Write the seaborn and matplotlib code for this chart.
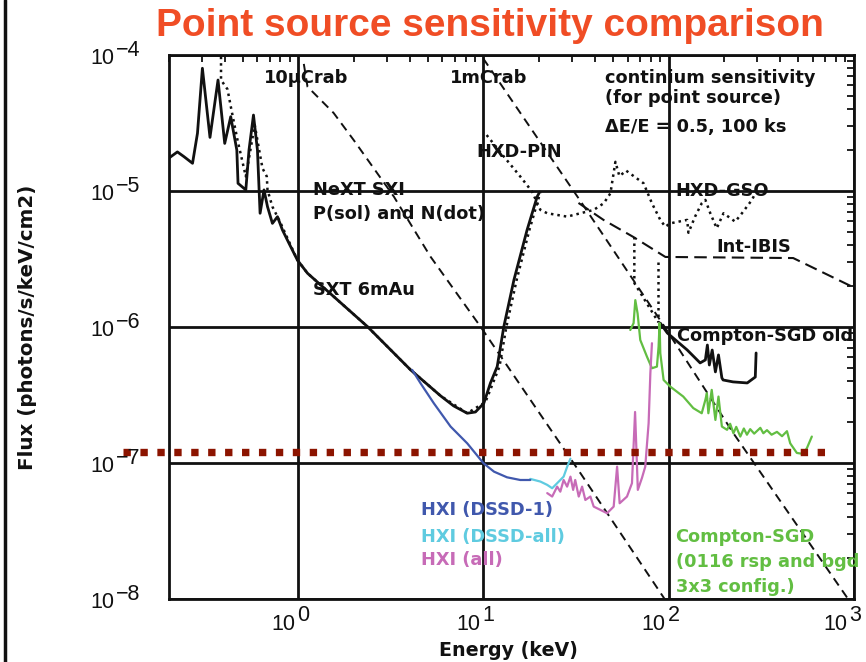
import matplotlib
matplotlib.use("Agg")
import matplotlib.pyplot as plt
import numpy as np
import pandas as pd
import seaborn as sns
from matplotlib.lines import Line2D
from matplotlib.ticker import LogLocator, NullFormatter

# ---------------------------------------------------------------- data
# Crab-like reference spectrum at the 1 mCrab level (photons/s/keV/cm2)
crab_E = [1.07, 1.12, 1.55, 1.99, 2.67, 3.28, 5.17, 9.63, 19.5, 33.4, 93.6, 224, 912, 960]
crab_1m = [8.6e-3, 5.85e-3, 3.75e-3, 2.37e-3, 1.35e-3, 9.1e-4, 3.30e-4, 1.01e-4,
           2.47e-5, 8.45e-6, 1.04e-6, 1.66e-7, 1.05e-8, 9.4e-9]

# NeXT SXI, P (solid)
sxt_p_E = [0.20, 0.222, 0.241, 0.268, 0.285, 0.303, 0.333, 0.368, 0.400, 0.431, 0.465,
           0.472, 0.520, 0.541, 0.572, 0.601, 0.621, 0.652, 0.681, 0.724, 0.771, 0.820,
           0.890, 0.988, 1.12, 2.36, 4.04, 5.86, 6.89, 8.17, 9.05, 10.04, 10.9, 11.86,
           12.88, 14.6, 17.2, 19.5, 20.1]
sxt_p_F = [1.75e-5, 1.94e-5, 1.79e-5, 1.60e-5, 2.66e-5, 7.99e-5, 2.48e-5, 6.55e-5, 2.24e-5,
           3.52e-5, 2.00e-5, 1.14e-5, 1.02e-5, 2.00e-5, 3.62e-5, 2.00e-5, 6.87e-6, 1.02e-5,
           7.68e-6, 5.79e-6, 6.48e-6, 5.18e-6, 4.13e-6, 3.11e-6, 2.49e-6, 1.01e-6, 4.85e-7,
           3.13e-7, 2.64e-7, 2.33e-7, 2.38e-7, 2.76e-7, 3.88e-7, 5.13e-7, 1.01e-6, 2.22e-6,
           5.18e-6, 9.10e-6, 9.84e-6]

# NeXT SXI, N (dotted)
sxt_n_E = [0.382, 0.382, 0.414, 0.435, 0.469, 0.520, 0.581, 0.614, 0.640, 0.675, 0.681,
           0.724, 0.803, 0.890, 0.988, 1.12, 2.36, 4.04, 5.86, 8.17, 10.25, 12.2, 13.3,
           15.1, 17.7, 20.3]
sxt_n_F = [9.72e-5, 6.55e-5, 5.60e-5, 3.94e-5, 2.37e-5, 1.28e-5, 3.06e-5, 2.00e-5, 1.47e-5,
           1.28e-5, 1.02e-5, 7.68e-6, 5.79e-6, 4.25e-6, 3.11e-6, 2.49e-6, 1.01e-6, 4.85e-7,
           3.13e-7, 2.33e-7, 2.82e-7, 5.13e-7, 1.01e-6, 2.22e-6, 5.18e-6, 9.84e-6]

# Suzaku HXD-PIN and HXD-GSO (dotted)
pin_E = [10.4, 12.9, 15.8, 18.3, 20.3, 22.1, 28.3, 33.4, 39.4, 44.6, 48.5, 51.6, 54.2, 59.1]
pin_F = [2.58e-5, 1.79e-5, 1.28e-5, 9.91e-6, 7.27e-6, 6.87e-6, 6.49e-6, 6.87e-6, 7.27e-6,
         8.13e-6, 9.63e-6, 1.64e-5, 1.29e-5, 1.41e-5]
gso_E = [59.1, 73.3, 81.3, 90.2, 96.0, 102, 126, 128, 139, 151, 158, 168, 182, 198, 229,
         249, 282, 294]
gso_F = [1.41e-5, 1.14e-5, 8.13e-6, 6.14e-6, 5.47e-6, 5.79e-6, 6.14e-6, 4.94e-6, 6.49e-6,
         8.13e-6, 8.61e-6, 6.87e-6, 5.33e-6, 6.87e-6, 5.96e-6, 6.87e-6, 8.61e-6, 9.63e-6]

# INTEGRAL IBIS (dashed)
ibis_E = [32.6, 44.5, 64.5, 96.1, 471, 991]
ibis_F = [8.18e-6, 6.14e-6, 4.60e-6, 3.28e-6, 3.22e-6, 1.97e-6]

# Compton-SGD, earlier estimate (black)
sgd_old_E = [90.2, 98.4, 126, 148, 158, 162, 166, 172, 179, 186, 194, 197, 223, 266, 294, 297]
sgd_old_F = [1.07e-6, 9.06e-7, 6.80e-7, 5.46e-7, 5.74e-7, 7.39e-7, 5.27e-7, 6.79e-7, 4.69e-7,
             6.25e-7, 4.24e-7, 4.09e-7, 3.96e-7, 3.89e-7, 4.30e-7, 6.46e-7]
sgd_old_edge1_E = [65.3, 65.3, 88.0]
sgd_old_edge1_F = [4.60e-6, 2.11e-6, 1.09e-6]
sgd_old_edge2_E = [88.0, 88.0]
sgd_old_edge2_F = [3.01e-6, 1.09e-6]

# Compton-SGD (0116 response and background, 3x3 configuration)
sgd_E = [62.1, 64.7, 66.1, 68.0, 70.3, 76.4, 81.3, 86.5, 88.3, 89.4, 90.2, 94.0, 102, 120,
         136, 151, 158, 161, 164, 171, 179, 186, 194, 207, 215, 224, 232, 244, 255, 265,
         276, 290, 313, 325, 340, 360, 385, 410, 436, 454, 493, 535, 560, 594]
sgd_F = [9.53e-7, 1.07e-6, 1.58e-6, 1.26e-6, 8.05e-7, 6.07e-7, 4.99e-7, 5.13e-7, 7.19e-7,
         1.07e-6, 6.43e-7, 4.09e-7, 3.66e-7, 3.09e-7, 2.54e-7, 2.33e-7, 2.92e-7, 3.27e-7,
         2.33e-7, 3.46e-7, 2.08e-7, 3.09e-7, 1.86e-7, 1.76e-7, 1.95e-7, 1.66e-7, 1.85e-7,
         1.57e-7, 1.80e-7, 1.62e-7, 1.78e-7, 1.65e-7, 1.82e-7, 1.66e-7, 1.75e-7, 1.62e-7,
         1.70e-7, 1.58e-7, 1.72e-7, 1.40e-7, 1.19e-7, 1.17e-7, 1.30e-7, 1.57e-7]

# HXI curves
hxi1_E = [4.12, 4.57, 5.39, 6.64, 8.17, 10.0, 11.4, 13.4, 15.8, 17.9]
hxi1_F = [4.85e-7, 3.87e-7, 2.76e-7, 1.86e-7, 1.40e-7, 1.0e-7, 8.67e-8, 7.88e-8, 7.53e-8, 7.53e-8]
hxiall_dssd_E = [17.9, 20.3, 22.1, 23.5, 25.0, 27.1, 28.3, 29.5]
hxiall_dssd_F = [7.67e-8, 7.33e-8, 6.93e-8, 6.55e-8, 7.13e-8, 7.97e-8, 9.4e-8, 1.08e-7]
hxiall_E = [22.1, 23.5, 25.0, 26.0, 27.1, 28.3, 29.5, 30.5, 31.3, 32.7, 34.1, 35.5, 37.8,
            39.4, 42.8, 46.5, 50.5, 52.7, 54.4, 59.6, 63.4, 65.9, 68.2, 71.8, 74.8, 78.0,
            79.7, 81.3]
hxiall_F = [6.03e-8, 5.69e-8, 6.73e-8, 6.18e-8, 7.53e-8, 6.73e-8, 7.97e-8, 6.37e-8, 7.53e-8,
            5.69e-8, 6.73e-8, 5.37e-8, 5.69e-8, 4.80e-8, 4.54e-8, 4.29e-8, 4.80e-8, 9.44e-8,
            5.08e-8, 5.69e-8, 7.13e-8, 2.38e-7, 6.37e-8, 7.80e-8, 9.44e-8, 1.97e-7, 4.58e-7,
            7.62e-7]

# Goal level
goal_E = [0.113, 736]
goal_F = [1.21e-7, 1.21e-7]

# Decade tick labels
x_decades = [0, 1, 2, 3]
y_decades = [-4, -5, -6, -7, -8]

# ---------------------------------------------------------------- style
sns.set_theme(style="white")
plt.rcParams["font.family"] = ["Liberation Sans", "DejaVu Sans"]

BLACK = "#111111"
BLUE = "#4058ad"
CYAN = "#5fcbe0"
MAGENTA = "#c76bb7"
GREEN = "#62be42"
DARKRED = "#8c1400"

W, H = 866, 662
fig = plt.figure(figsize=(W / 100, H / 100), dpi=100)
ax = fig.add_axes([169 / W, 1 - 599.3 / H, (853.7 - 169) / W, (599.3 - 55) / H])
ax.set_xscale("log")
ax.set_yscale("log")
ax.set_xlim(0.2, 1000)
ax.set_ylim(1e-8, 1e-4)

DOT = (0, (1, 1.6))
CRAB_DASH = (0, (4.5, 3))
IBIS_DASH = (0, (6, 3))


def trace(E, F, color=BLACK, lw=1.8, ls="-", **kw):
    df = pd.DataFrame({"E": E, "F": F})
    sns.lineplot(data=df, x="E", y="F", ax=ax, color=color, linewidth=lw,
                 linestyle=ls, sort=False, estimator=None, **kw)


# decade grid
ax.grid(True, which="major", color=BLACK, linewidth=2.0)
ax.set_axisbelow(True)

# Crab reference lines
crab_10u = [f / 100 for f in crab_1m]
trace(crab_E, crab_10u, lw=1.4, ls=CRAB_DASH)
trace(crab_E, crab_1m, lw=1.4, ls=CRAB_DASH)

# SXT
trace(sxt_n_E, sxt_n_F, lw=1.8, ls=DOT)
trace(sxt_p_E, sxt_p_F, lw=2.0)

# HXD
trace(pin_E, pin_F, lw=1.8, ls=DOT)
trace(gso_E, gso_F, lw=1.8, ls=DOT)

# IBIS
trace(ibis_E, ibis_F, lw=1.5, ls=IBIS_DASH)

# Compton-SGD old
trace(sgd_old_edge1_E, sgd_old_edge1_F, lw=1.8, ls=DOT)
trace(sgd_old_edge2_E, sgd_old_edge2_F, lw=1.8, ls=DOT)
trace(sgd_old_E, sgd_old_F, lw=2.0)

# Compton-SGD
trace(sgd_E, sgd_F, color=GREEN, lw=1.6)

# HXI
trace(hxiall_E, hxiall_F, color=MAGENTA, lw=1.6)
trace(hxiall_dssd_E, hxiall_dssd_F, color=CYAN, lw=1.6)
trace(hxi1_E, hxi1_F, color=BLUE, lw=1.6)

# goal level
trace(goal_E, goal_F, color=DARKRED, lw=5.3, ls=(0, (1, 1.3)), clip_on=False,
      dash_capstyle="butt")

ax.set_xlim(0.2, 1000)
ax.set_ylim(1e-8, 1e-4)

# ---------------------------------------------------------------- axes
for s in ax.spines.values():
    s.set_color(BLACK)
    s.set_linewidth(2.0)
ax.xaxis.set_major_locator(LogLocator(base=10, numticks=10))
ax.yaxis.set_major_locator(LogLocator(base=10, numticks=10))
ax.xaxis.set_minor_locator(LogLocator(base=10, subs=np.arange(2, 10), numticks=20))
ax.yaxis.set_minor_locator(LogLocator(base=10, subs=np.arange(2, 10), numticks=20))
ax.xaxis.set_minor_formatter(NullFormatter())
ax.yaxis.set_minor_formatter(NullFormatter())
ax.tick_params(which="both", direction="in", top=True, right=True, colors=BLACK,
               labelbottom=False, labelleft=False)
ax.tick_params(which="major", length=0)
ax.tick_params(which="minor", length=5, width=1.3)
ax.set_xlabel("")
ax.set_ylabel("")

# decade labels: "10" with a full-size raised exponent
tick = dict(fontsize=15.5, family=["Liberation Sans"], color=BLACK, va="baseline",
            textcoords="offset pixels", annotation_clip=False)
for k in x_decades:
    shift = -3 if k == x_decades[-1] else 0
    ax.annotate("10", xy=(10.0 ** k, 0), xycoords=("data", "axes fraction"),
                xytext=(-3 + shift, -30.5), ha="right", **tick)
    ax.annotate(str(k), xy=(10.0 ** k, 0), xycoords=("data", "axes fraction"),
                xytext=(-1 + shift, -22), ha="left", **tick)
for k in y_decades:
    ax.annotate("10", xy=(0, 10.0 ** k), xycoords=("axes fraction", "data"),
                xytext=(-55, -9), ha="right", **tick)
    ax.annotate("\u2212" + str(-k), xy=(0, 10.0 ** k), xycoords=("axes fraction", "data"),
                xytext=(-53, -1), ha="left", **tick)

# ---------------------------------------------------------------- text
note = dict(fontsize=12.8, fontweight="bold", family=["DejaVu Sans"], va="center",
            ha="left", color=BLACK)
ax.text(0.652, 6.77e-5, "10\u03bcCrab", **note)
ax.text(6.55, 6.77e-5, "1mCrab", **note)
ax.text(45.5, 6.77e-5, "continium sensitivity", **note)
ax.text(45.5, 4.83e-5, "(for point source)", **note)
ax.text(45.5, 2.96e-5, "\u0394E/E = 0.5, 100 ks", **note)
ax.text(9.17, 1.94e-5, "HXD-PIN", **note)
ax.text(109, 1.0e-5, "HXD-GSO", **note)
ax.text(1.195, 1.02e-5, "NeXT SXI", **note)
ax.text(1.195, 6.79e-6, "P(sol) and N(dot)", **note)
ax.text(1.195, 1.87e-6, "SXT 6mAu", **note)
ax.text(181, 3.88e-6, "Int-IBIS", **note)
ax.text(111, 8.61e-7, "Compton-SGD old", clip_on=False, **note)
ax.text(4.57, 4.54e-8, "HXI (DSSD-1)", **{**note, "color": BLUE})
ax.text(4.57, 2.88e-8, "HXI (DSSD-all)", **{**note, "color": CYAN})
ax.text(4.57, 1.95e-8, "HXI (all)", **{**note, "color": MAGENTA})
ax.text(109, 2.88e-8, "Compton-SGD", **{**note, "color": GREEN})
ax.text(109, 1.88e-8, "(0116 rsp and bgd", clip_on=False, **{**note, "color": GREEN})
ax.text(109, 1.23e-8, "3x3 config.)", **{**note, "color": GREEN})

lab = dict(fontweight="bold", family=["DejaVu Sans"], color=BLACK)
fig.text(28 / W, 1 - 327 / H, "Flux (photons/s/keV/cm2)", rotation=90, ha="center",
         va="center", fontsize=14.3, **lab)
fig.text(508 / W, 1 - 650 / H, "Energy (keV)", ha="center", va="center",
         fontsize=13.7, **lab)

fig.text(490 / W, 1 - 26 / H, "Point source sensitivity comparison", ha="center",
         va="center", fontsize=28, fontweight="bold", color="#f04d25",
         family=["Liberation Sans"])

# slide frame edge on the left
fig.add_artist(Line2D([5 / W, 5 / W], [0, 1], transform=fig.transFigure,
                      color=BLACK, linewidth=2.5))

fig.savefig("out.png", dpi=100)
